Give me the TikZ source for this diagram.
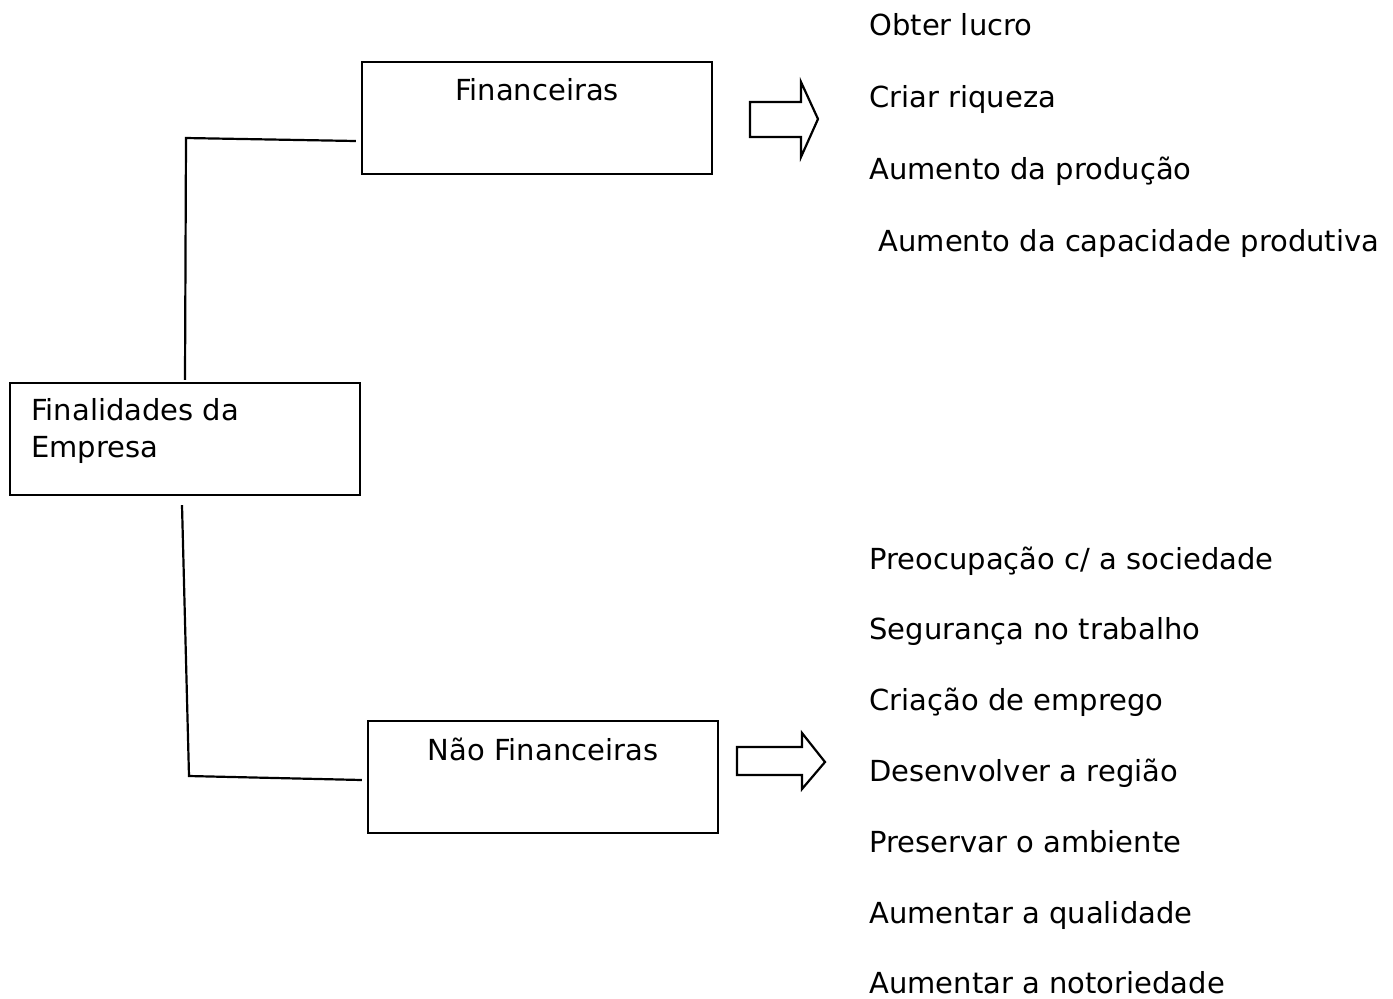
\documentclass[tikz,border=0pt]{standalone}
\usepackage{fontspec}
\setmainfont{DejaVu Sans}
\usetikzlibrary{positioning}
\tikzstyle{box} = [draw, line width=1.1pt, minimum width=175pt, minimum height=56pt, inner sep=0pt]
\tikzstyle{boxtext} = [inner sep=0pt, font=\fontsize{14.5}{18.5}\selectfont]
\tikzstyle{item} = [inner sep=0pt, text height=11pt, text depth=2pt, font=\fontsize{14.5}{18.5}\selectfont]
\tikzstyle{link} = [draw, line width=1.1pt]
\tikzstyle{fatarrow} = [draw, line width=1.1pt, line join=miter]

\begin{document}
\begin{tikzpicture}[x=0.5pt, y=-0.5pt]
\useasboundingbox (0,0) rectangle (1393,998);

% boxes =============================
\node[box] (emp) at (185,439) {};
\node[boxtext, anchor=north west, align=left] (emptxt) at ([xshift=11pt, yshift=-8pt]emp.north west) {Finalidades da\\Empresa};
\node[box] (fin) at (537,118) {};
\node[boxtext, anchor=base] (fintxt) at ([yshift=-20pt]fin.north) {Financeiras};
\node[box] (nao) at (543,777) {};
\node[boxtext, anchor=base] (naotxt) at ([yshift=-20.5pt]nao.north) {Não Financeiras};

% links
\coordinate (c1) at (186,138);
\coordinate (c2) at (189,776);
\path[link] ([yshift=1pt]emp.north) -- (c1) -- ([shift={(-5,23)}]fin.west);
\path[link] ([shift={(-3,9)}]emp.south) -- (c2) -- ([shift={(-5,3)}]nao.west);

% block arrows
\path[fatarrow] (750,102) -- (801,102) -- (801,82) -- (818,119) -- (801,157) -- (801,137) -- (750,137) -- cycle;
\path[fatarrow] (737,747) -- (802,747) -- (802,733) -- (825,762) -- (802,789) -- (802,775) -- (737,775) -- cycle;

% financial goals
\node[item, anchor=base west] (f1) at (869,35) {Obter lucro};
\node[item, below=22.75pt of f1.south west, anchor=north west] (f2) {Criar riqueza};
\node[item, below=22.75pt of f2.south west, anchor=north west] (f3) {Aumento da produção};
\node[item, below=22.75pt of f3.south west, anchor=north west] (f4) {\ Aumento da capacidade produtiva};

% non financial goals
\node[item, anchor=base west] (n1) at (869,569) {Preocupação c/ a sociedade};
\node[item, below=22pt of n1.south west, anchor=north west] (n2) {Segurança no trabalho};
\node[item, below=22pt of n2.south west, anchor=north west] (n3) {Criação de emprego};
\node[item, below=22pt of n3.south west, anchor=north west] (n4) {Desenvolver a região};
\node[item, below=22pt of n4.south west, anchor=north west] (n5) {Preservar o ambiente};
\node[item, below=22pt of n5.south west, anchor=north west] (n6) {Aumentar a qualidade};
\node[item, below=22pt of n6.south west, anchor=north west] (n7) {Aumentar a notoriedade};

\end{tikzpicture}
\end{document}
